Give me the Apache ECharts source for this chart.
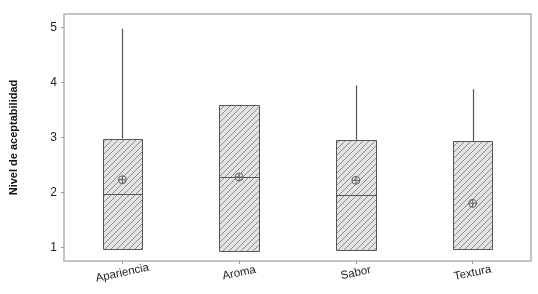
<!DOCTYPE html>
<html>
<head>
<meta charset="utf-8">
<script src="https://cdn.jsdelivr.net/npm/echarts@6/dist/echarts.min.js"></script>
<style>
html,body{margin:0;padding:0;background:#fff;}
#chart{width:538px;height:294px;}
</style>
</head>
<body>
<div id="chart"></div>
<script>
var categories = ['Apariencia', 'Aroma', 'Sabor', 'Textura'];
var q1Vals = [0.97, 0.93, 0.95, 0.97];
var medianVals = [1.97, 2.28, 1.95, 0.97];
var q3Vals = [2.98, 3.6, 2.96, 2.93];
var maxVals = [4.98, 3.6, 3.95, 3.88];
var meanVals = [2.23, 2.28, 2.22, 1.8];
var yTicks = [1, 2, 3, 4, 5];

var FONT = 'Arial, "Liberation Sans", sans-serif';

function makeHatch() {
  var c = document.createElement('canvas');
  c.width = 6; c.height = 6;
  var ctx = c.getContext('2d');
  ctx.fillStyle = '#e4e4e4';
  ctx.fillRect(0, 0, 6, 6);
  ctx.strokeStyle = '#8a8a8a';
  ctx.lineWidth = 1;
  ctx.beginPath();
  ctx.moveTo(-1, 7); ctx.lineTo(7, -1);
  ctx.moveTo(-4, 4); ctx.lineTo(4, -4);
  ctx.moveTo(2, 10); ctx.lineTo(10, 2);
  ctx.stroke();
  return c;
}
var hatch = { image: makeHatch(), repeat: 'repeat' };

var data = categories.map(function (c, i) {
  return [i, q1Vals[i], medianVals[i], q3Vals[i], maxVals[i], meanVals[i]];
});

var chart = echarts.init(document.getElementById('chart'));
chart.setOption({
  animation: false,
  grid: { left: 63, right: 7, top: 14, bottom: 33, show: true, borderColor: '#c4c4c4', borderWidth: 2 },
  xAxis: {
    type: 'category',
    data: categories,
    boundaryGap: true,
    axisLine: { show: false },
    axisTick: { show: true, alignWithLabel: true, length: 3, lineStyle: { color: '#999' } },
    axisLabel: { fontSize: 11.5, color: '#222', fontFamily: FONT, rotate: 12, align: 'center', margin: 12 },
    splitLine: { show: false }
  },
  yAxis: {
    type: 'value',
    min: 0.75,
    max: 5.25,
    name: 'Nivel de aceptabilidad',
    nameLocation: 'middle',
    nameGap: 45,
    nameTextStyle: { fontSize: 11, fontWeight: 'bold', color: '#111', fontFamily: FONT },
    axisLine: { show: false },
    axisTick: { show: true, length: 3, customValues: yTicks, lineStyle: { color: '#999' } },
    axisLabel: { fontSize: 12, color: '#222', fontFamily: FONT, margin: 7, customValues: yTicks },
    splitLine: { show: false }
  },
  series: [{
    type: 'custom',
    data: data,
    renderItem: function (params, api) {
      var idx = api.value(0);
      var band = api.size([1, 0])[0];
      var w = band * 0.34;
      var pQ1 = api.coord([idx, api.value(1)]);
      var pMed = api.coord([idx, api.value(2)]);
      var pQ3 = api.coord([idx, api.value(3)]);
      var pMax = api.coord([idx, api.value(4)]);
      var pMean = api.coord([idx, api.value(5)]);
      var x = pQ1[0];
      var left = Math.round(x - w / 2) + 0.5;
      var right = Math.round(x + w / 2) + 0.5;
      var children = [];
      if (pMax[1] < pQ3[1] - 0.5) {
        children.push({ type: 'line', shape: { x1: Math.round(x) + 0.5, y1: pMax[1], x2: Math.round(x) + 0.5, y2: pQ3[1] },
          style: { stroke: '#555', lineWidth: 1.2 } });
      }
      children.push({ type: 'rect', shape: { x: left, y: Math.round(pQ3[1]) + 0.5, width: right - left, height: Math.round(pQ1[1]) - Math.round(pQ3[1]) },
        style: { fill: hatch, stroke: '#555', lineWidth: 1 } });
      children.push({ type: 'line', shape: { x1: left, y1: Math.round(pMed[1]) + 0.5, x2: right, y2: Math.round(pMed[1]) + 0.5 },
        style: { stroke: '#555', lineWidth: 1 } });
      var r = 4;
      children.push({ type: 'circle', shape: { cx: x, cy: pMean[1], r: r }, style: { fill: 'rgba(0,0,0,0)', stroke: '#666', lineWidth: 1 } });
      children.push({ type: 'line', shape: { x1: x - r, y1: pMean[1], x2: x + r, y2: pMean[1] }, style: { stroke: '#666', lineWidth: 1 } });
      children.push({ type: 'line', shape: { x1: x, y1: pMean[1] - r, x2: x, y2: pMean[1] + r }, style: { stroke: '#666', lineWidth: 1 } });
      return { type: 'group', children: children };
    }
  }]
});
</script>
</body>
</html>
